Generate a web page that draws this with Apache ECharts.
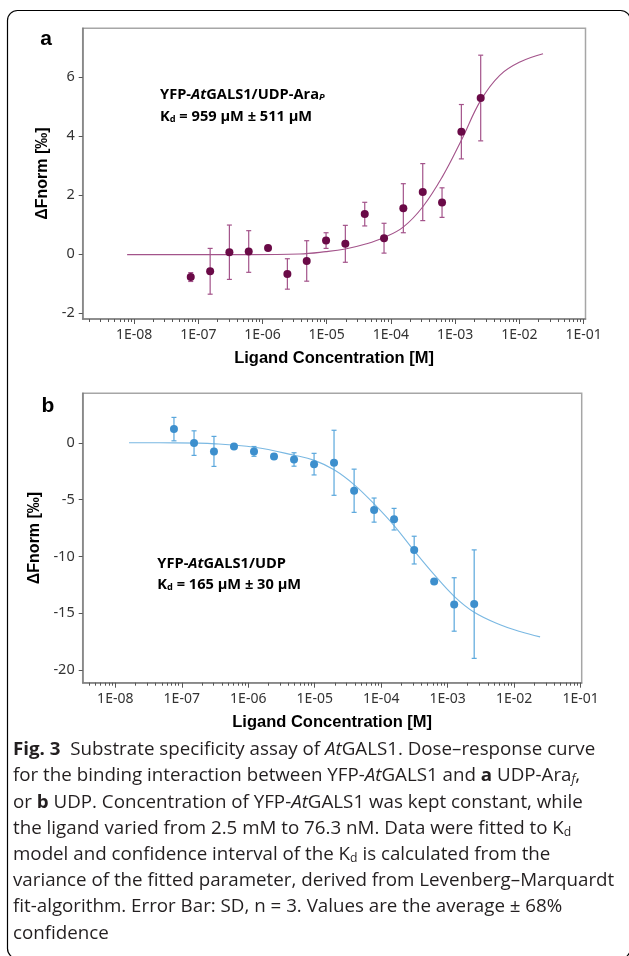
<!DOCTYPE html>
<html><head><meta charset="utf-8">
<script src="https://cdn.jsdelivr.net/npm/echarts@6/dist/echarts.min.js"></script>
<style>html,body{margin:0;padding:0;background:#fff}#c{width:629px;height:956px}</style>
</head><body><div id="c"></div>
<script>
// ---------- data ----------
const concA = [7.63e-8, 1.53e-7, 3.05e-7, 6.10e-7, 1.22e-6, 2.44e-6, 4.88e-6, 9.77e-6, 1.95e-5, 3.91e-5, 7.81e-5, 1.56e-4, 3.13e-4, 6.25e-4, 1.25e-3, 2.50e-3];
const meanA = [-0.78, -0.585, 0.06, 0.085, 0.20, -0.675, -0.235, 0.455, 0.345, 1.35, 0.535, 1.55, 2.095, 1.74, 4.14, 5.28];
const sdA   = [0.15, 0.775, 0.92, 0.705, 0.05, 0.515, 0.685, 0.265, 0.625, 0.40, 0.505, 0.83, 0.965, 0.50, 0.92, 1.45];
const fitConcA = [7.8e-9, 1.03e-7, 6.2e-7, 3.74e-6, 9.77e-6, 1.95e-5, 3.91e-5, 7.85e-5, 1.57e-4, 3.14e-4, 6.31e-4, 1.25e-3, 2.5e-3, 4.95e-3, 1.02e-2, 2.34e-2];
const fitA     = [-0.02, -0.02, -0.02, 0.0, 0.08, 0.17, 0.33, 0.56, 0.92, 1.6, 2.61, 3.85, 5.2, 6.05, 6.5, 6.78];

const concB = [7.63e-8, 1.53e-7, 3.05e-7, 6.10e-7, 1.22e-6, 2.44e-6, 4.88e-6, 9.77e-6, 1.95e-5, 3.91e-5, 7.81e-5, 1.56e-4, 3.13e-4, 6.25e-4, 1.25e-3, 2.50e-3];
const meanB = [1.2, -0.03, -0.76, -0.32, -0.76, -1.2, -1.47, -1.88, -1.76, -4.22, -5.92, -6.72, -9.44, -12.2, -14.22, -14.19];
const sdB   = [1.03, 1.08, 1.32, 0.1, 0.43, 0.22, 0.59, 0.95, 2.86, 1.9, 1.06, 0.95, 1.22, 0.1, 2.35, 4.77];
const fitConcB = [1.61e-8, 7.63e-8, 3.23e-7, 1.24e-6, 4.95e-6, 9.89e-6, 1.98e-5, 3.94e-5, 7.87e-5, 1.57e-4, 3.13e-4, 6.26e-4, 1.25e-3, 2.5e-3, 6.14e-3, 1.22e-2, 2.45e-2];
const fitB     = [0, -0.01, -0.1, -0.4, -1.1, -1.55, -2.4, -3.7, -5.4, -7.3, -9.5, -11.6, -13.5, -14.9, -16.0, -16.6, -17.07];

const xTickExps   = [-8, -7, -6, -5, -4, -3, -2, -1];
const xTickLabels = ['1E-08', '1E-07', '1E-06', '1E-05', '1E-04', '1E-03', '1E-02', '1E-01'];
const yTicksA = [-2, 0, 2, 4, 6];
const yTicksB = [-20, -15, -10, -5, 0];

// ---------- build ----------
const L = Math.log10;
const minorVals = [];
for (let n = -10; n <= 0; n++) for (let k = 2; k <= 9; k++) minorVals.push(n + L(k));

const TICKFONT = '"Noto Sans", sans-serif';
const NAMEFONT = '"Liberation Sans", Arial, sans-serif';
const colA = {pt: '#6a0a47', line: '#a3538a', err: '#a3538a'};
const colB = {pt: '#3d8fcd', line: '#7ab8e2', err: '#5aa7dc'};

function xAxes(gi, min, max) {
  const fmt = v => { const i = xTickExps.findIndex(e => Math.abs(e - v) < 1e-6); return i >= 0 ? xTickLabels[i] : ''; };
  return [
    { type: 'value', gridIndex: gi, min, max, position: 'bottom',
      name: 'Ligand Concentration [M]', nameLocation: 'middle', nameGap: 31,
      nameTextStyle: {fontFamily: NAMEFONT, fontWeight: 'bold', fontSize: 16.5, color: '#000'},
      axisLine: {show: true, onZero: false, lineStyle: {color: '#7f7f7f', width: 1.5}},
      axisTick: {show: true, customValues: xTickExps, length: 5, lineStyle: {color: '#555', width: 1}},
      axisLabel: {show: true, customValues: xTickExps, formatter: fmt, margin: 9, fontFamily: TICKFONT, fontSize: 14, color: '#333'},
      splitLine: {show: false} },
    { type: 'value', gridIndex: gi, min, max, position: 'bottom',
      axisLine: {show: false, onZero: false},
      axisTick: {show: true, customValues: minorVals.filter(v => v > min && v < max), length: 3, lineStyle: {color: '#555', width: 1}},
      axisLabel: {show: false}, splitLine: {show: false} }
  ];
}
function yAxis(gi, min, max, ticks) {
  return { type: 'value', gridIndex: gi, min, max, position: 'left',
    name: 'ΔFnorm [‰]', nameLocation: 'middle', nameGap: 32, nameRotate: 90,
    nameTextStyle: {fontFamily: NAMEFONT, fontWeight: 'bold', fontSize: 16, color: '#000'},
    axisLine: {show: true, onZero: false, lineStyle: {color: '#7f7f7f', width: 1.5}},
    axisTick: {show: true, customValues: ticks, length: 4, lineStyle: {color: '#555'}},
    axisLabel: {show: true, customValues: ticks, margin: 8, fontFamily: TICKFONT, fontSize: 14.5, color: '#333'},
    splitLine: {show: false} };
}
function errSeries(xi, yi, conc, mean, sd, color) {
  return { type: 'custom', xAxisIndex: xi, yAxisIndex: yi, z: 3, clip: false,
    data: conc.map((c, i) => [L(c), mean[i] - sd[i], mean[i] + sd[i]]),
    encode: {x: 0, y: [1, 2]},
    renderItem: (params, api) => {
      const x = api.value(0);
      const p1 = api.coord([x, api.value(2)]), p2 = api.coord([x, api.value(1)]);
      const w = 2.5, st = {stroke: color, lineWidth: 1.2};
      return {type: 'group', children: [
        {type: 'line', shape: {x1: p1[0], y1: p1[1], x2: p2[0], y2: p2[1]}, style: st},
        {type: 'line', shape: {x1: p1[0] - w, y1: p1[1], x2: p1[0] + w, y2: p1[1]}, style: st},
        {type: 'line', shape: {x1: p2[0] - w, y1: p2[1], x2: p2[0] + w, y2: p2[1]}, style: st}
      ]};
    } };
}

const option = {
  animation: false,
  backgroundColor: '#fff',
  grid: [
    {left: 82.7, top: 28.3, width: 502.8, height: 290.7, show: true, borderColor: '#a6a6a6', borderWidth: 1.5, backgroundColor: 'transparent'},
    {left: 82.7, top: 393.3, width: 499, height: 289.4, show: true, borderColor: '#a6a6a6', borderWidth: 1.5, backgroundColor: 'transparent'}
  ],
  xAxis: [...xAxes(0, -8.8, -0.97), ...xAxes(1, -8.49, -0.985)],
  yAxis: [yAxis(0, -2.2, 7.64, yTicksA), yAxis(1, -21.1, 4.35, yTicksB)],
  series: [
    {type: 'line', xAxisIndex: 0, yAxisIndex: 0, data: fitConcA.map((c, i) => [L(c), fitA[i]]), smooth: 0.4, showSymbol: false, z: 2,
      lineStyle: {color: colA.line, width: 1.1}},
    errSeries(0, 0, concA, meanA, sdA, colA.err),
    {type: 'scatter', xAxisIndex: 0, yAxisIndex: 0, data: concA.map((c, i) => [L(c), meanA[i]]), symbolSize: 8, z: 4,
      itemStyle: {color: colA.pt, opacity: 1}},
    {type: 'line', xAxisIndex: 2, yAxisIndex: 1, data: fitConcB.map((c, i) => [L(c), fitB[i]]), smooth: 0.4, showSymbol: false, z: 2,
      lineStyle: {color: colB.line, width: 1.1}},
    errSeries(2, 1, concB, meanB, sdB, colB.err),
    {type: 'scatter', xAxisIndex: 2, yAxisIndex: 1, data: concB.map((c, i) => [L(c), meanB[i]]), symbolSize: 8, z: 4,
      itemStyle: {color: colB.pt, opacity: 1}}
  ]
};

// ---------- texts ----------
const CAPFONT = '"Open Sans", sans-serif';
const CAPSIZE = 18.5;
const ctx = document.createElement('canvas').getContext('2d');
ctx.font = 'bold ' + CAPSIZE + 'px ' + CAPFONT;
let w1 = ctx.measureText('Fig. 3').width;
ctx.font = CAPSIZE + 'px ' + CAPFONT;
w1 += ctx.measureText('  Substrate specificity assay of AtGALS1. Dose–response curve').width;
const capScale = 584 / w1;

const capRich = {
  b:   {fontFamily: CAPFONT, fontSize: CAPSIZE, fontWeight: 'bold', fill: '#231f20'},
  i:   {fontFamily: CAPFONT, fontSize: CAPSIZE, fontStyle: 'italic', fill: '#231f20'},
  sub: {fontFamily: CAPFONT, fontSize: 12, verticalAlign: 'bottom', lineHeight: 10, fill: '#231f20'},
  subi:{fontFamily: CAPFONT, fontSize: 12, fontStyle: 'italic', verticalAlign: 'bottom', lineHeight: 10, fill: '#231f20'}
};
const captionLines = [
  '{b|Fig. 3}  Substrate specificity assay of {i|At}GALS1. Dose–response curve',
  'for the binding interaction between YFP-{i|At}GALS1 and {b|a} UDP-Ara{subi|f},',
  'or {b|b} UDP. Concentration of YFP-{i|At}GALS1 was kept constant, while',
  'the ligand varied from 2.5 mM to 76.3 nM. Data were fitted to K{sub|d}',
  'model and confidence interval of the K{sub|d} is calculated from the',
  'variance of the fitted parameter, derived from Levenberg–Marquardt',
  'fit-algorithm. Error Bar: SD, n = 3. Values are the average ± 68%',
  'confidence'
];
const capY0 = 750, capDy = 26.2;

const annFont = '"Open Sans", sans-serif';
const annRich = {
  bi:  {fontFamily: annFont, fontSize: 15, fontWeight: 'bold', fontStyle: 'italic', fill: '#000'},
  sub: {fontFamily: annFont, fontSize: 9.5, fontWeight: 'bold', verticalAlign: 'bottom', lineHeight: 9, fill: '#000'},
  subi:{fontFamily: annFont, fontSize: 9.5, fontWeight: 'bold', fontStyle: 'italic', verticalAlign: 'bottom', lineHeight: 9, fill: '#000'}
};
function ann(x, y, text) {
  return {type: 'text', x, y, z: 100, scaleX: 0.975,
    style: {text, rich: annRich, fontFamily: annFont, fontSize: 15, fontWeight: 'bold', fill: '#000', verticalAlign: 'middle', align: 'left'}};
}

option.graphic = [
  {type: 'rect', z: 0, shape: {x: 7.5, y: 10.5, width: 623, height: 948, r: 10}, style: {fill: null, stroke: '#000', lineWidth: 1.2}},
  {type: 'text', x: 46, y: 39, z: 100, style: {text: 'a', fontFamily: NAMEFONT, fontWeight: 'bold', fontSize: 21, fill: '#000', align: 'center', verticalAlign: 'middle'}},
  {type: 'text', x: 48, y: 406, z: 100, style: {text: 'b', fontFamily: NAMEFONT, fontWeight: 'bold', fontSize: 21, fill: '#000', align: 'center', verticalAlign: 'middle'}},
  ann(160, 94.3, 'YFP-{bi|At}GALS1/UDP-Ara{subi|P}'),
  ann(160, 116.7, 'K{sub|d} = 959 µM ± 511 µM'),
  ann(157.3, 563.3, 'YFP-{bi|At}GALS1/UDP'),
  ann(157.3, 584.5, 'K{sub|d} = 165 µM ± 30 µM'),
  ...captionLines.map((t, k) => ({type: 'text', x: 13, y: capY0 + k * capDy, z: 100, scaleX: capScale,
    style: {text: t, rich: capRich, fontFamily: CAPFONT, fontSize: CAPSIZE, fill: '#231f20', align: 'left', verticalAlign: 'middle'}}))
];

const chart = echarts.init(document.getElementById('c'), null, {renderer: 'canvas'});
chart.setOption(option);
</script>
</body></html>
